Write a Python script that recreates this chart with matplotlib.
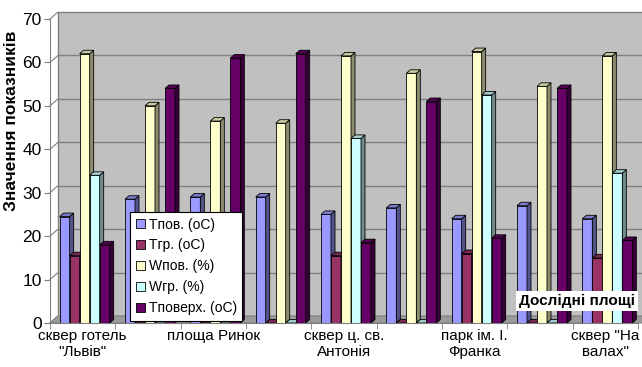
import numpy as np
import matplotlib
matplotlib.use('Agg')
import matplotlib.pyplot as plt
from matplotlib.patches import Polygon, Rectangle

# sites (only every other label is shown on the axis)
sites = ['сквер готель\n"Львів"', '', 'площа Ринок', '', 'сквер ц. св.\nАнтонія',
         '', 'парк ім. І.\nФранка', '', 'сквер "На\nвалах"']

series = ['Tпов. (oC)', 'Tгр. (oC)', 'Wпов. (%)', 'Wгр. (%)', 'Tповерх. (oC)']
t_air = [24.5, 28.5, 29, 29, 25, 26.5, 24, 27, 24]
t_soil = [15.5, 0, 0, 0, 15.5, 0, 16, 0, 15]
w_air = [62, 50, 46.5, 46, 61.5, 57.5, 62.5, 54.5, 61.5]
w_soil = [34, 0, 0, 0, 42.5, 0, 52.5, 0, 34.5]
t_surf = [18, 54, 61, 62, 18.5, 51, 19.5, 54, 19]
colors = ['#9999ff', '#993366', '#ffffcc', '#ccffff', '#660066']

font = ['Liberation Sans', 'DejaVu Sans']
plt.rcParams['font.family'] = font

fig = plt.figure(figsize=(6.42, 3.67), dpi=100)
ax = fig.add_axes([50/642, 1-323/367, 588/642, 304/367])
ax.set_xlim(0, 9)
ax.set_ylim(0, 70)
ax.patch.set_visible(False)

# data units per pixel, used for the 3d depth
upx = 9/588
vpx = 70/304
wall_dx, wall_dy = 8*upx, 7*vpx
bar_dx, bar_dy = 4*upx, 3.5*vpx

# back wall, floor and gridlines
ax.add_patch(Rectangle((wall_dx, wall_dy), 9.3, 70, fc='#c0c0c0', ec='#808080',
                       lw=1, zorder=0, clip_on=False))
ax.add_patch(Polygon([(0, 0), (9.3, 0), (9.3+wall_dx, wall_dy), (wall_dx, wall_dy)],
                     closed=True, fc='#9a9a9a', ec='#808080', lw=0.8, zorder=0.5, clip_on=False))
for v in range(0, 80, 10):
    if 0 < v < 70:
        ax.plot([wall_dx, 9.3+wall_dx], [v+wall_dy, v+wall_dy], color='#808080', lw=1,
                zorder=0.2, clip_on=False)
    ax.plot([0, wall_dx], [v, v+wall_dy], color='#808080', lw=0.8, zorder=0.2, clip_on=False)

x = np.arange(len(sites)) + 0.5
w = 10*upx
data = [t_air, t_soil, w_air, w_soil, t_surf]

def shade(c, k):
    r, g, b = matplotlib.colors.to_rgb(c)
    return (r*k, g*k, b*k)

handles = []
z = 2
for gi in range(len(sites)):
    for si, vals in enumerate(data):
        left = x[gi] - 2.5*w + si*w + 2*upx
        bc = ax.bar(left, vals[gi], width=w, align='edge', color=colors[si],
                    edgecolor='black', linewidth=0.6, zorder=z, clip_on=False)
        if gi == 0:
            handles.append(bc)
        h = vals[gi]
        r = left + w
        # right side face
        ax.add_patch(Polygon([(r, 0), (r+bar_dx, bar_dy), (r+bar_dx, h+bar_dy), (r, h)],
                             closed=True, fc=shade(colors[si], 0.55), ec='black', lw=0.6,
                             zorder=z+0.1, clip_on=False))
        # top face
        ax.add_patch(Polygon([(left, h), (r, h), (r+bar_dx, h+bar_dy), (left+bar_dx, h+bar_dy)],
                             closed=True, fc=shade(colors[si], 0.8), ec='black', lw=0.6,
                             zorder=z+0.2, clip_on=False))
        z += 0.3

for s in ['top', 'right']:
    ax.spines[s].set_visible(False)
for s in ['left', 'bottom']:
    ax.spines[s].set_color('#808080')
    ax.spines[s].set_zorder(50)

ax.set_yticks(range(0, 80, 10))
ax.tick_params(axis='y', length=4, color='#808080', labelsize=12.5, pad=2)
ax.set_xticks(x)
ax.set_xticklabels(sites)
ax.set_xticks(np.arange(0, 10), minor=True)
ax.tick_params(axis='x', which='major', length=0, labelsize=11, pad=4)
ax.tick_params(axis='x', which='minor', length=4, color='#808080')
for lab in ax.get_xticklabels():
    lab.set_linespacing(1.2)

ax.set_ylabel('Значення показників', fontsize=12.5, fontweight='bold')
ax.yaxis.set_label_coords(-0.052, 0.665)

ax.text(577/642, 1-301/367, 'Дослідні площі', transform=fig.transFigure,
        ha='center', va='center', fontsize=11, fontweight='bold', zorder=60,
        bbox=dict(fc='white', ec='none', pad=2))

leg = ax.legend(handles, series, loc='upper left',
                bbox_to_anchor=(130/642, 1-212/367), bbox_transform=fig.transFigure,
                fancybox=False, edgecolor='black', framealpha=1,
                prop={'size': 10},
                handlelength=0.65, handleheight=0.65, handletextpad=0.3,
                labelspacing=0.5, borderpad=0.4, borderaxespad=0)
leg.get_frame().set_linewidth(0.8)
leg.set_zorder(60)

fig.savefig('out.png', dpi=100)
